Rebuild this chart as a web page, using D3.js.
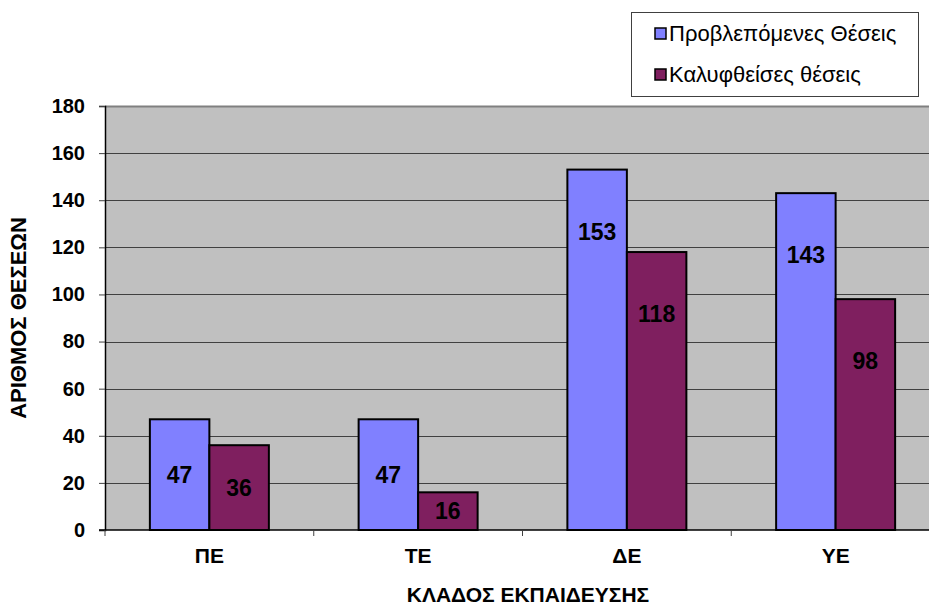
<!DOCTYPE html>
<html>
<head>
<meta charset="utf-8">
<script src="https://cdn.jsdelivr.net/npm/d3@7"></script>
<style>
  html, body { margin: 0; padding: 0; background: #fff; }
  svg { display: block; font-family: "Liberation Sans", Arial, sans-serif; }
</style>
</head>
<body>
<svg id="chart" width="929" height="607"></svg>
<script>
// Staffing positions per education branch
const categories = ["ΠΕ", "ΤΕ", "ΔΕ", "ΥΕ"];
const planned = [47, 47, 153, 143];
const filled = [36, 16, 118, 98];
const seriesNames = ["Προβλεπόμενες Θέσεις", "Καλυφθείσες θέσεις"];
const seriesColors = ["#8080FF", "#7F1F5F"];
const yTicks = [0, 20, 40, 60, 80, 100, 120, 140, 160, 180];

const svg = d3.select("#chart");
const plot = { left: 105, right: 940, top: 106, bottom: 530 };

const x = d3.scaleBand().domain(categories).range([plot.left, plot.right]).paddingInner(0).paddingOuter(0);
const y = d3.scaleLinear().domain([0, 180]).range([plot.bottom, plot.top]);
const barW = 59.5;

// plot background
svg.append("rect")
  .attr("x", plot.left).attr("y", plot.top)
  .attr("width", plot.right - plot.left).attr("height", plot.bottom - plot.top)
  .attr("fill", "#C0C0C0");
svg.append("line")
  .attr("x1", plot.left).attr("x2", plot.right)
  .attr("y1", plot.top + 0.5).attr("y2", plot.top + 0.5)
  .attr("stroke", "#808080").attr("stroke-width", 2);

// gridlines
svg.append("g").selectAll("line").data(yTicks.filter(t => t > 0 && t < 180)).join("line")
  .attr("x1", plot.left).attr("x2", plot.right)
  .attr("y1", d => Math.round(y(d)) + 0.5).attr("y2", d => Math.round(y(d)) + 0.5)
  .attr("stroke", "#404040").attr("stroke-width", 1);

// y axis
const yAxis = svg.append("g").attr("transform", `translate(${plot.left},0)`)
  .call(d3.axisLeft(y).tickValues(yTicks).tickSize(6).tickPadding(14));
yAxis.select(".domain").attr("stroke", "#000").attr("stroke-width", 1.5);
yAxis.selectAll(".tick line").attr("stroke", "#404040");
yAxis.selectAll("text").attr("font-size", 20).attr("font-weight", "bold")
  .attr("font-family", "Liberation Sans, Arial, sans-serif").attr("fill", "#000");

// bars and value labels (label sits at mid-bar, but no deeper than a fixed drop below the top)
const series = [planned, filled];
const groups = svg.append("g");
series.forEach((vals, si) => {
  groups.append("g").selectAll("rect").data(categories).join("rect")
    .attr("x", d => x(d) + x.bandwidth() / 2 - barW + si * barW)
    .attr("y", (d, i) => y(vals[i]))
    .attr("width", barW)
    .attr("height", (d, i) => y(0) - y(vals[i]))
    .attr("fill", seriesColors[si])
    .attr("stroke", "#000").attr("stroke-width", 2);
  groups.append("g").selectAll("text").data(categories).join("text")
    .attr("x", d => x(d) + x.bandwidth() / 2 - barW / 2 + si * barW)
    .attr("y", (d, i) => Math.min((y(vals[i]) + y(0)) / 2, y(vals[i]) + 62))
    .attr("dy", "0.36em")
    .attr("text-anchor", "middle")
    .attr("font-size", 23).attr("font-weight", "bold").attr("fill", "#000")
    .text((d, i) => vals[i]);
});

// x axis
const xAxis = svg.append("g").attr("transform", `translate(0,${plot.bottom})`)
  .call(d3.axisBottom(x).tickSize(0).tickPadding(18));
xAxis.select(".domain").remove();
xAxis.selectAll("text").attr("font-size", 21).attr("font-weight", "bold")
  .attr("font-family", "Liberation Sans, Arial, sans-serif").attr("fill", "#000");
svg.append("line").attr("x1", plot.left - 6).attr("x2", plot.right)
  .attr("y1", plot.bottom).attr("y2", plot.bottom)
  .attr("stroke", "#000").attr("stroke-width", 1.5);
svg.append("g").selectAll("line").data(categories.concat(["end"])).join("line")
  .attr("x1", (d, i) => plot.left + i * x.bandwidth())
  .attr("x2", (d, i) => plot.left + i * x.bandwidth())
  .attr("y1", plot.bottom).attr("y2", plot.bottom + 6)
  .attr("stroke", "#404040");

// axis titles
svg.append("text")
  .attr("transform", `translate(26,${(plot.top + plot.bottom) / 2}) rotate(-90)`)
  .attr("text-anchor", "middle")
  .attr("font-size", 22).attr("font-weight", "bold")
  .text("ΑΡΙΘΜΟΣ ΘΕΣΕΩΝ");
svg.append("text")
  .attr("x", 528).attr("y", 602)
  .attr("text-anchor", "middle")
  .attr("font-size", 21).attr("font-weight", "bold")
  .text("ΚΛΑΔΟΣ ΕΚΠΑΙΔΕΥΣΗΣ");

// legend
const legend = svg.append("g");
legend.append("rect").attr("x", 631.5).attr("y", 12.5).attr("width", 287).attr("height", 84)
  .attr("fill", "#fff").attr("stroke", "#404040").attr("stroke-width", 1);
seriesNames.forEach((name, i) => {
  const cy = 33.5 + i * 41;
  legend.append("rect").attr("x", 655).attr("y", cy - 5.5).attr("width", 11).attr("height", 11)
    .attr("fill", seriesColors[i]).attr("stroke", "#000").attr("stroke-width", 1.5);
  legend.append("text").attr("x", 669).attr("y", cy).attr("dy", "0.36em")
    .attr("font-size", 22).attr("fill", "#000").text(name);
});
</script>
</body>
</html>
